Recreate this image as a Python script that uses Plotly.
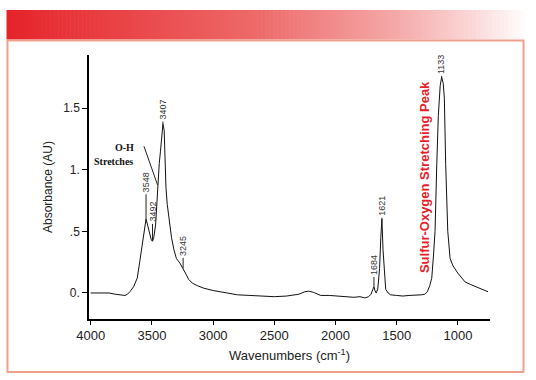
import plotly.graph_objects as go

# ---- data ----
wavenumber = [4000, 3950, 3900, 3850, 3800, 3750, 3720, 3700, 3680, 3650, 3620, 3600, 3585, 3570,
              3556, 3548, 3535, 3520, 3505, 3495, 3485, 3470, 3460, 3450, 3440, 3430, 3420, 3410,
              3400, 3392, 3385, 3375, 3360, 3340, 3320, 3300, 3270, 3245, 3220, 3200, 3170, 3130,
              3080, 3000, 2900, 2800, 2700, 2600, 2500, 2400, 2300, 2250, 2220, 2180, 2120, 2050,
              2000, 1950, 1900, 1850, 1800, 1760, 1730, 1710, 1695, 1686, 1678, 1668, 1655, 1640,
              1630, 1621, 1612, 1600, 1590, 1570, 1550, 1500, 1450, 1400, 1350, 1300, 1270, 1250,
              1230, 1214, 1200, 1187, 1173, 1160, 1145, 1133, 1120, 1111, 1100, 1083, 1064, 1040,
              1000, 970, 942, 900, 850, 800, 754]
absorbance = [0.00, 0.00, -0.005, 0.00, -0.01, -0.015, -0.02, -0.01, 0.01, 0.05, 0.12, 0.25, 0.36, 0.47,
              0.56, 0.60, 0.55, 0.48, 0.43, 0.42, 0.45, 0.55, 0.75, 0.95, 1.05, 1.15, 1.30, 1.37,
              1.32, 1.05, 0.85, 0.72, 0.58, 0.45, 0.35, 0.28, 0.24, 0.20, 0.15, 0.11, 0.08, 0.06,
              0.04, 0.02, 0.00, -0.015, -0.02, -0.025, -0.03, -0.025, -0.01, 0.01, 0.015, 0.005, -0.02, -0.02,
              -0.025, -0.03, -0.03, -0.035, -0.03, -0.04, -0.03, -0.01, 0.03, 0.05, 0.02, 0.00, 0.03, 0.20,
              0.45, 0.60, 0.35, 0.12, 0.03, 0.00, -0.015, -0.02, -0.025, -0.02, -0.02, -0.015, -0.01, 0.01,
              0.06, 0.12, 0.30, 0.50, 1.04, 1.44, 1.68, 1.75, 1.70, 1.58, 1.04, 0.50, 0.28, 0.22,
              0.16, 0.12, 0.09, 0.07, 0.05, 0.03, 0.01]

peak_labels = ["3548", "3492", "3407", "3245", "1684", "1621", "1133"]
peak_wn = [3548, 3495, 3410, 3245, 1686, 1621, 1133]
peak_abs = [0.60, 0.42, 1.37, 0.20, 0.05, 0.60, 1.75]
label_base = [0.80, 0.56, 1.39, 0.285, 0.13, 0.61, 1.76]

y_tickvals = [0, 0.5, 1, 1.5]
y_ticktext = ["0.", ".5", "1.", "1.5"]
x_tickvals = [4000, 3500, 3000, 2500, 2000, 1500, 1000]
x_ticktext = ["4000", "3500", "3000", "2500", "2000", "1500", "1000"]

W, H = 536, 380
L, R, T, B = 89, 490, 55, 319


def px(xp):
    return (xp - L) / (R - L)


def py(yp):
    return (B - yp) / (B - T)


fig = go.Figure()
fig.add_trace(go.Scatter(x=wavenumber, y=absorbance, mode="lines",
                         line=dict(color="#111111", width=1), hoverinfo="skip"))

shapes = []
# gradient banner
stops = [(0.0, (229, 35, 41)), (0.5, (238, 108, 108)), (0.75, (245, 168, 168)),
         (0.9, (251, 215, 215)), (1.0, (255, 252, 252))]


def col(t):
    for (t0, c0), (t1, c1) in zip(stops[:-1], stops[1:]):
        if t <= t1:
            f = (t - t0) / (t1 - t0)
            return "rgb(%d,%d,%d)" % tuple(round(a + (b - a) * f) for a, b in zip(c0, c1))
    return "rgb(255,255,255)"


x0b, x1b = 6.5, 524
n = 130
for i in range(n):
    a = x0b + (x1b - x0b) * i / n
    b = x0b + (x1b - x0b) * (i + 1) / n + 0.6
    shapes.append(dict(type="rect", xref="paper", yref="paper", x0=px(a), x1=px(b),
                       y0=py(39.5), y1=py(10), line=dict(width=0), fillcolor=col((i + 0.5) / n),
                       layer="below"))
# border
shapes.append(dict(type="rect", xref="paper", yref="paper", x0=px(7.5), x1=px(523.5),
                   y0=py(372), y1=py(40.5), line=dict(color="#f0a08c", width=2),
                   fillcolor="rgba(0,0,0,0)", layer="below"))

# peak label lines
for w, a, lb in zip(peak_wn, peak_abs, label_base):
    shapes.append(dict(type="line", xref="x", yref="y", x0=w, x1=w, y0=a, y1=lb,
                       line=dict(color="#222222", width=1)))
# O-H pointer line
shapes.append(dict(type="line", xref="x", yref="y", x0=3565, y0=1.19, x1=3454, y1=0.876,
                   line=dict(color="#222222", width=1)))

annotations = []
for t, w, lb in zip(peak_labels, peak_wn, label_base):
    annotations.append(dict(x=w, y=lb, xref="x", yref="y", text=t, textangle=-90,
                            showarrow=False, xanchor="center", yanchor="bottom",
                            font=dict(family="Arial, Liberation Sans", size=9, color="#333333")))
annotations.append(dict(x=3722, y=1.18, xref="x", yref="y", text="<b>O-H</b>", showarrow=False,
                        font=dict(family="Liberation Serif, Times New Roman", size=10, color="#111")))
annotations.append(dict(x=3810, y=1.07, xref="x", yref="y", text="<b>Stretches</b>", showarrow=False,
                        font=dict(family="Liberation Serif, Times New Roman", size=10, color="#111")))
annotations.append(dict(x=1277, y=0.94, xref="x", yref="y", text="<b>Sulfur-Oxygen Stretching Peak</b>",
                        textangle=-90, showarrow=False,
                        font=dict(family="Arial, Liberation Sans", size=13, color="#e8202a")))

fig.update_layout(
    width=W, height=H,
    margin=dict(l=L, r=W - R, t=T, b=H - B, pad=0, autoexpand=False),
    paper_bgcolor="white", plot_bgcolor="white",
    showlegend=False,
    shapes=shapes, annotations=annotations,
    font=dict(family="Arial, Liberation Sans", color="#222222"),
)
fig.update_xaxes(range=[4014, 738], tickmode="array", tickvals=x_tickvals, ticktext=x_ticktext,
                 automargin=False,
                 showline=True, linecolor="black", linewidth=1.5, ticks="outside", ticklen=4,
                 tickcolor="black", showgrid=False, zeroline=False,
                 tickfont=dict(size=13, color="#222"),
                 title=dict(text="Wavenumbers (cm<sup>-1</sup>)", font=dict(size=13, color="#222"),
                            standoff=9))
fig.update_yaxes(range=[-0.211, 1.93], tickmode="array", tickvals=y_tickvals, ticktext=y_ticktext,
                 automargin=False,
                 showline=True, linecolor="black", linewidth=1.5, ticks="outside", ticklen=5,
                 tickcolor="black", showgrid=False, zeroline=False,
                 tickfont=dict(size=12, color="#222"),
                 title=dict(text="Absorbance (AU)", font=dict(size=12, color="#222"), standoff=8))

fig.write_html("out.html", config={"displayModeBar": False},
               post_script="document.body.style.margin='0';document.body.style.padding='0';")
